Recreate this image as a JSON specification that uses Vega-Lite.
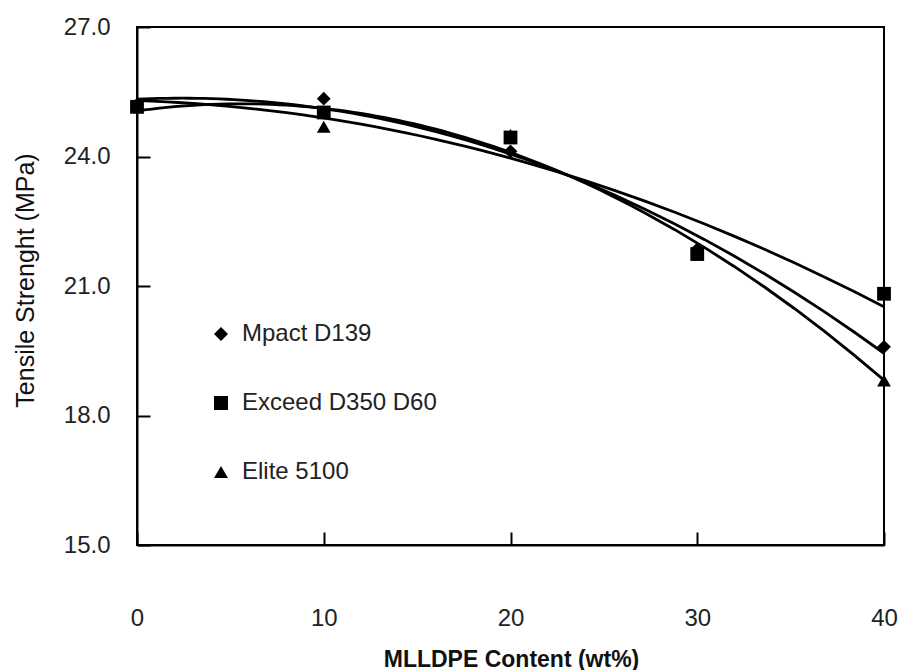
{
  "$schema": "https://vega.github.io/schema/vega-lite/v6.json",
  "width": 747,
  "height": 518,
  "autosize": {"type": "none"},
  "padding": {"left": 137, "top": 27, "right": 17, "bottom": 125},
  "background": "white",
  "config": {
    "view": {"stroke": "black", "strokeWidth": 2},
    "font": "Liberation Sans",
    "axis": {"grid": false, "domainColor": "black", "domainWidth": 2, "tickColor": "black", "tickWidth": 2, "labelColor": "#222", "titleColor": "#111"}
  },
  "data": {
    "values": [
      {"series": "Mpact D139", "x": 0, "y": 25.2},
      {"series": "Mpact D139", "x": 10, "y": 25.34},
      {"series": "Mpact D139", "x": 20, "y": 24.12},
      {"series": "Mpact D139", "x": 30, "y": 21.85},
      {"series": "Mpact D139", "x": 40, "y": 19.59},
      {"series": "Exceed D350 D60", "x": 0, "y": 25.15},
      {"series": "Exceed D350 D60", "x": 10, "y": 25.02},
      {"series": "Exceed D350 D60", "x": 20, "y": 24.44},
      {"series": "Exceed D350 D60", "x": 30, "y": 21.74},
      {"series": "Exceed D350 D60", "x": 40, "y": 20.82},
      {"series": "Elite 5100", "x": 0, "y": 25.2},
      {"series": "Elite 5100", "x": 10, "y": 24.69},
      {"series": "Elite 5100", "x": 20, "y": 24.5},
      {"series": "Elite 5100", "x": 30, "y": 21.88},
      {"series": "Elite 5100", "x": 40, "y": 18.81}
    ]
  },
  "layer": [
    {
      "transform": [
        {"regression": "y", "on": "x", "groupby": ["series"], "method": "poly", "order": 2, "extent": [0, 40]}
      ],
      "mark": {"type": "line", "color": "black", "strokeWidth": 2.8, "clip": true},
      "encoding": {
        "x": {"field": "x", "type": "quantitative"},
        "y": {"field": "y", "type": "quantitative"},
        "detail": {"field": "series", "type": "nominal"}
      }
    },
    {
      "mark": {"type": "point", "filled": true, "opacity": 1, "size": 190, "color": "black"},
      "encoding": {
        "x": {
          "field": "x", "type": "quantitative",
          "scale": {"domain": [0, 40], "nice": false},
          "axis": {
            "values": [0, 10, 20, 30, 40], "format": "d", "tickSize": -13, "labelPadding": 74,
            "labelFontSize": 24, "labelFlush": false,
            "title": "MLLDPE Content (wt%)", "titleFontSize": 23, "titleFontWeight": "bold",
            "titleX": 374, "titleY": 121, "titleBaseline": "alphabetic", "titleAlign": "center"
          }
        },
        "y": {
          "field": "y", "type": "quantitative",
          "scale": {"domain": [15, 27], "nice": false, "zero": false},
          "axis": {
            "values": [15, 18, 21, 24, 27], "format": ".1f", "tickSize": -13, "labelPadding": 40,
            "labelFontSize": 24, "labelFlush": false,
            "title": "Tensile Strenght (MPa)", "titleFontSize": 25, "titleFontWeight": "normal",
            "titleX": -112, "titleY": 253, "titleAngle": -90, "titleBaseline": "middle", "titleAlign": "center"
          }
        },
        "shape": {
          "field": "series", "type": "nominal",
          "scale": {"domain": ["Mpact D139", "Exceed D350 D60", "Elite 5100"], "range": ["diamond", "square", "triangle-up"]},
          "legend": {
            "title": null, "orient": "none", "legendX": 72, "legendY": 295, "padding": 0,
            "labelFontSize": 24, "labelColor": "#222", "labelOffset": 9, "labelLimit": 0, "rowPadding": 45,
            "symbolSize": 196, "symbolFillColor": "black", "symbolStrokeColor": "black", "symbolType": "circle"
          }
        }
      }
    }
  ]
}
